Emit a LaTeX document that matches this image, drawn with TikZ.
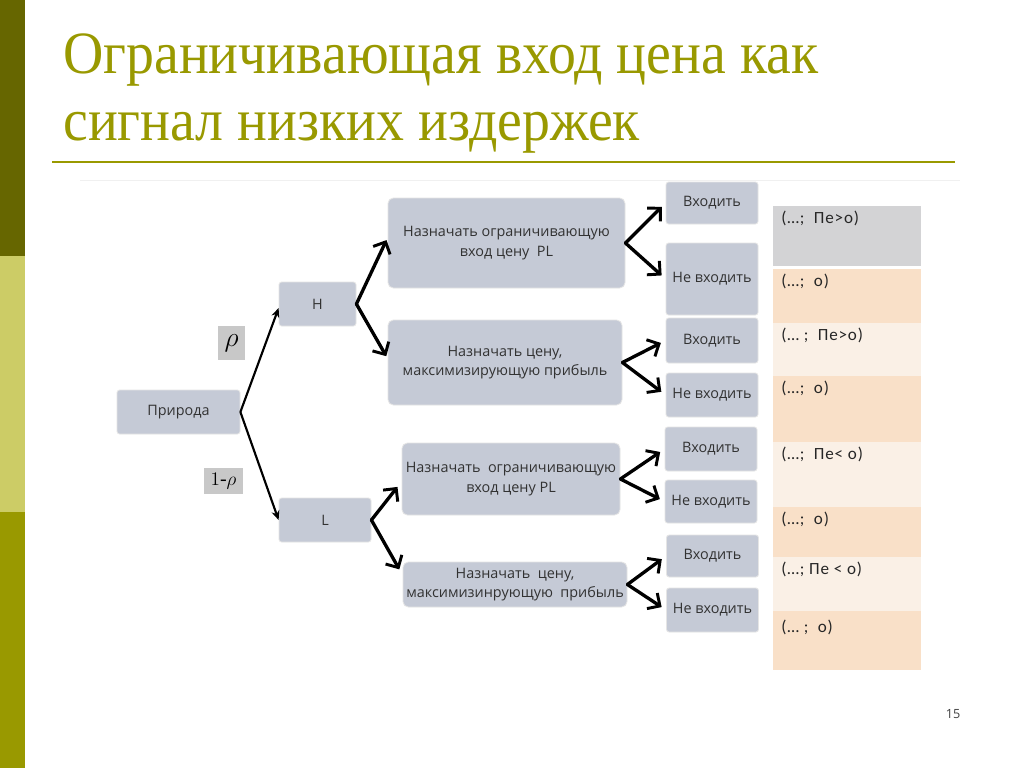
\documentclass[tikz,border=0pt]{standalone}
\usepackage{fontspec}
\setmainfont{Liberation Serif}
\newfontfamily\boxfont{Open Sans}
\newfontfamily\tabfont[LetterSpace=5]{Carlito}
\usetikzlibrary{arrows.meta}
\definecolor{olivedark}{RGB}{102,102,0}
\definecolor{olivelight}{RGB}{204,204,102}
\definecolor{olivemid}{RGB}{153,153,0}
\definecolor{titlecol}{RGB}{153,153,0}
\definecolor{boxfill}{RGB}{197,202,214}
\definecolor{boxtext}{RGB}{50,50,50}
\definecolor{rowgrey}{RGB}{211,211,213}
\definecolor{rowpeach}{RGB}{249,224,200}
\definecolor{rowlight}{RGB}{250,240,230}
\definecolor{rhofill}{RGB}{200,200,200}
\begin{document}
\begin{tikzpicture}[x=0.75pt,y=-0.75pt,
  bx/.style={draw=white!80!gray, line width=0.6pt, fill=boxfill, rounded corners=2pt,
    text=boxtext, font=\boxfont\fontsize{10.8}{14.5}\selectfont, align=center, inner sep=0pt},
  bigbx/.style={bx, rounded corners=4pt},
  rholab/.style={fill=rhofill, inner sep=0pt},
  arr/.style={line width=2.5pt, line cap=round, -{Straight Barb[length=7pt,width=14pt,line width=2.2pt]}},
  thinarr/.style={line width=1.6pt, -{Stealth[length=7pt,width=6pt]}},
  rowtxt/.style={anchor=north west, inner sep=0pt, text=black!85, font=\tabfont\fontsize{12.8}{14}\selectfont},
  titletxt/.style={anchor=base west, inner sep=0pt, text=titlecol, font=\fontsize{45}{50}\selectfont}
]
\useasboundingbox (0,0) rectangle (1024,768);
\fill[white] (0,0) rectangle (1024,768);
% left bar
\fill[olivedark] (0,0) rectangle (25,256);
\fill[olivelight] (0,256) rectangle (25,512);
\fill[olivemid] (0,512) rectangle (25,768);
% title
\node[titletxt] (t1) at (63,73) {\scalebox{0.93}[1]{Ограничивающая вход цена как}};
\node[titletxt] (t2) at (63,140) {\scalebox{0.93}[1]{сигнал низких издержек}};
\draw[titlecol, line width=2.2pt] (52,162) -- (955,162);
\draw[gray!12, line width=0.5pt] (80,180) -- (960,180);

% tree nodes
\node[bx, minimum width=92.25pt, minimum height=33pt] (nat) at (178.5,412) {Природа};
\node[bx, minimum width=57.75pt, minimum height=33pt] (H) at (317.5,304) {H};
\node[bx, minimum width=69pt, minimum height=33pt] (L) at (325,520) {L};
\node[rholab, minimum width=20.25pt, minimum height=25.5pt, font=\fontsize{21}{21}\selectfont] (rho) at (231.5,343) {$\rho$};
\node[rholab, minimum width=29.25pt, minimum height=19.5pt, font=\fontsize{15}{15}\selectfont] (rho1) at (223.5,481) {$1\mbox{-}\rho$};

\node[bigbx, minimum width=177.75pt, minimum height=67.5pt] (A1) at (506.5,243) {Назначать ограничивающую\\вход цену\ \ PL};
\node[bigbx, minimum width=175.5pt, minimum height=63.75pt] (A2) at (505,362.5) {Назначать цену,\\максимизирующую прибыль};
\node[bigbx, minimum width=163.5pt, minimum height=54pt] (A3) at (511,479) {Назначать\ \ ограничивающую\\вход цену PL};
\node[bigbx, minimum width=168pt, minimum height=33.75pt] (A4) at (515,584.5) {Назначать\ \ цену,\\максимизинрующую\ \ прибыль};

\node[bx, minimum width=69pt, minimum height=31.5pt] (E1) at (712,203) {Входить};
\node[bx, minimum width=69pt, minimum height=54pt] (N1) at (712,279) {Не входить};
\node[bx, minimum width=69pt, minimum height=33.75pt] (E2) at (712,340.5) {Входить};
\node[bx, minimum width=69pt, minimum height=33pt] (N2) at (712,395) {Не входить};
\node[bx, minimum width=69pt, minimum height=33pt] (E3) at (711,449) {Входить};
\node[bx, minimum width=69pt, minimum height=32.25pt] (N3) at (711,501.5) {Не входить};
\node[bx, minimum width=69pt, minimum height=31.5pt] (E4) at (712.5,556) {Входить};
\node[bx, minimum width=69pt, minimum height=33pt] (N4) at (712.5,610) {Не входить};

% connectors
\draw[thinarr] (nat.east) -- ([yshift=-3pt]H.west);
\draw[thinarr] (nat.east) -- (L.west);
\draw[arr, shorten >=2pt] (H.east) -- ([yshift=4pt]A1.west);
\draw[arr, shorten >=2pt] (H.east) -- ([yshift=3pt]A2.west);
\draw[arr, shorten >=5pt] (L.east) -- ([yshift=-2pt]A3.west);
\draw[arr, shorten >=5pt] (L.east) -- ([yshift=7pt]A4.west);
\draw[arr, shorten >=4pt] (A1.east) -- (E1.west);
\draw[arr, shorten >=4pt] (A1.east) -- (N1.west);
\draw[arr, shorten >=4pt] (A2.east) -- (E2.west);
\draw[arr, shorten >=4pt] (A2.east) -- (N2.west);
\draw[arr, shorten >=4pt] (A3.east) -- (E3.west);
\draw[arr, shorten >=4pt] (A3.east) -- (N3.west);
\draw[arr, shorten >=4pt] (A4.east) -- (E4.west);
\draw[arr, shorten >=4pt] (A4.east) -- (N4.west);

% payoff table
\fill[rowgrey] (773,206) rectangle (921,266);
\fill[rowpeach] (773,269) rectangle (921,323);
\fill[rowlight] (773,323) rectangle (921,376);
\fill[rowpeach] (773,376) rectangle (921,442);
\fill[rowlight] (773,442) rectangle (921,507);
\fill[rowpeach] (773,507) rectangle (921,557);
\fill[rowlight] (773,557) rectangle (921,611);
\fill[rowpeach] (773,611) rectangle (921,670);
\node[rowtxt] (r1) at (781,211) {(…;\ \ Пе>o)};
\node[rowtxt] (r2) at (781,274) {(…;\ \ o)};
\node[rowtxt] (r3) at (781,328) {(… ;\ \ Пе>o)};
\node[rowtxt] (r4) at (781,381) {(…;\ \ o)};
\node[rowtxt] (r5) at (781,447) {(…;\ \ Пе< o)};
\node[rowtxt] (r6) at (781,512) {(…;\ \ o)};
\node[rowtxt] (r7) at (781,562) {(…; Пе < o)};
\node[rowtxt] (r8) at (781,620) {(… ;\ \ o)};

\node[anchor=base, inner sep=0pt, text=black!75, font=\boxfont\fontsize{9.5}{11}\selectfont] (pg) at (953,718) {15};
\end{tikzpicture}
\end{document}
